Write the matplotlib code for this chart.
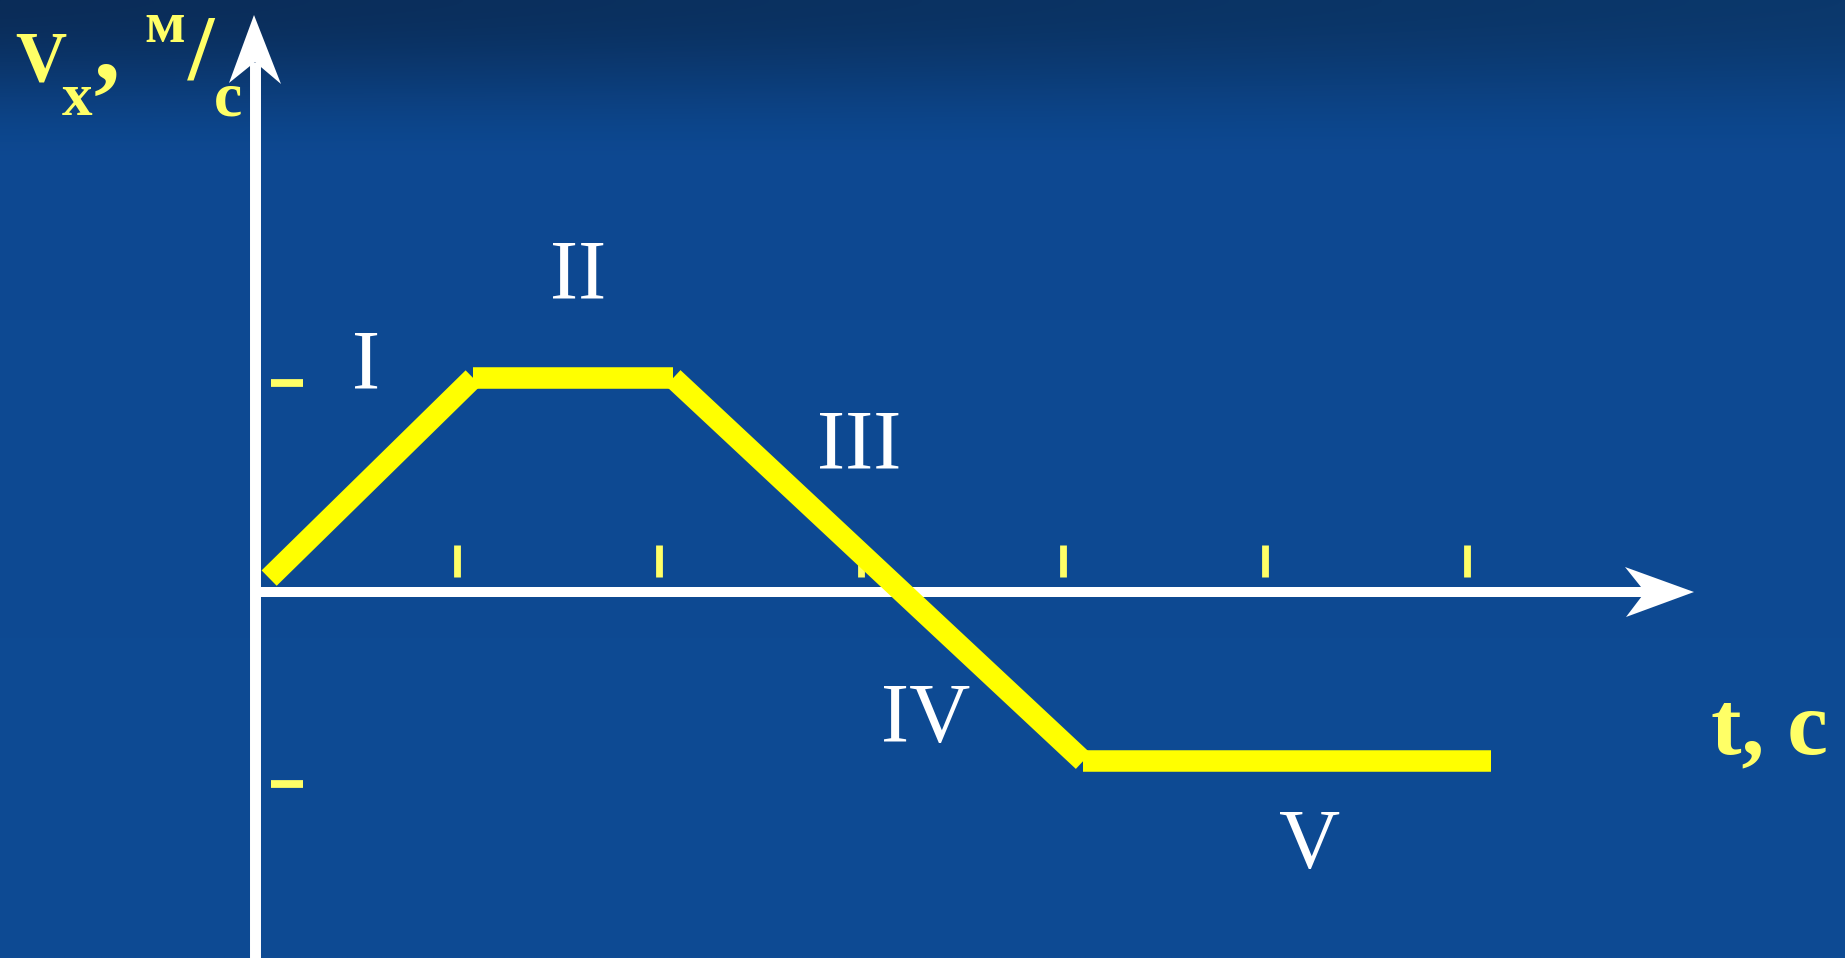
import numpy as np
import matplotlib
matplotlib.use("Agg")
import matplotlib.pyplot as plt
from matplotlib.patches import Polygon
from matplotlib.colors import to_rgb

# ---- data (t in s, v in m/s, schematic units) ----
t_points = [0.07, 1.08, 2.07, 4.10, 6.12]
v_points = [0.065, 1.0, 1.0, -0.79, -0.79]
x_ticks = [1, 2, 3, 4, 5, 6]
y_ticks = [0.976, -0.897]
phase_labels = ["I", "II", "III", "IV", "V"]

# ---- figure geometry ----
W, H = 1845, 958
X0, Y0 = 255, 592          # origin in pixels
UX, UY = 202, 214          # pixels per unit

def P(x, y):
    """pixel position -> data coordinates (for decorations/labels)."""
    return (x - X0) / UX, (Y0 - y) / UY

fig = plt.figure(figsize=(W / 100, H / 100), dpi=100)
ax = fig.add_axes([0, 0, 1, 1])
xlim = (-X0 / UX, (W - X0) / UX)
ylim = (-(H - Y0) / UY, Y0 / UY)

# background gradient (dark navy at the top fading into medium blue)
yy = np.linspace(0, 1, 300)[:, None, None]
xx = np.linspace(0, 1, 300)[None, :, None]
c_top_l = np.array(to_rgb("#0a2c58"))
c_top_r = np.array(to_rgb("#0b386c"))
c_mid = np.array(to_rgb("#0d4891"))
c_bot = np.array(to_rgb("#0e4b94"))
f = np.clip(yy / 0.17, 0, 1)
f = f * f * (3 - 2 * f)
c_top = c_top_l + (c_top_r - c_top_l) * xx
img = (1 - f) * c_top + f * c_mid + (c_bot - c_mid) * yy
img = np.clip(img, 0, 1)
ax.imshow(img, extent=[xlim[0], xlim[1], ylim[0], ylim[1]], aspect="auto",
          origin="upper", zorder=0, interpolation="bilinear")

WHITE = "#ffffff"
YEL = "#ffff00"
LYEL = "#ffff66"

# axes lines
ax.plot([0, 0], [ylim[0] - 0.1, P(0, 62)[1]], color=WHITE, lw=7.9,
        solid_capstyle="butt", zorder=2)
ax.plot([P(258, 0)[0], P(1646, 0)[0]], [0, 0], color=WHITE, lw=7.2,
        solid_capstyle="butt", zorder=2)
# arrow heads
ax.add_patch(Polygon([P(254, 15), P(229, 83), P(255, 62), P(281, 84)],
                     closed=True, color=WHITE, lw=0, zorder=2))
ax.add_patch(Polygon([P(1694, 592), P(1625, 567), P(1645, 592), P(1626, 617)],
                     closed=True, color=WHITE, lw=0, zorder=2))

# tick marks
ax.vlines(x_ticks, P(0, 577)[1], P(0, 545)[1], color=LYEL, lw=4.9, zorder=3)
ax.hlines(y_ticks, P(271, 0)[0], P(303, 0)[0], color=LYEL, lw=5.6, zorder=3)

# velocity graph, drawn segment by segment (butt ends give the notched corners)
for i in range(len(t_points) - 1):
    ax.plot(t_points[i:i + 2], v_points[i:i + 2], color=YEL, lw=15.5,
            solid_capstyle="butt", zorder=4)

# phase labels
serif = ["Liberation Serif", "DejaVu Serif"]
label_pos = [(366, 388), (578, 298), (859, 469), (926, 742), (1310, 868)]
for lab, (px, py) in zip(phase_labels, label_pos):
    ax.text(*P(px, py), lab, color=WHITE, fontsize=61, family=serif,
            ha="center", va="baseline", zorder=5)

# axis titles
def ytxt(s, px, py, size):
    ax.text(*P(px, py), s, color=LYEL, fontsize=size, family=serif,
            fontweight="bold", ha="left", va="baseline", zorder=6)

ytxt("V", 15, 80, 51)
ytxt("x", 62, 115, 44)
ytxt(",", 94, 80, 76)
ytxt("м", 144, 42, 43)
ytxt("/", 188, 79, 68)
ytxt("с", 214, 115, 46)
ytxt("t, с", 1711, 753, 66)

ax.set_xlim(*xlim)
ax.set_ylim(*ylim)
ax.axis("off")
fig.savefig("out.png", dpi=100)
